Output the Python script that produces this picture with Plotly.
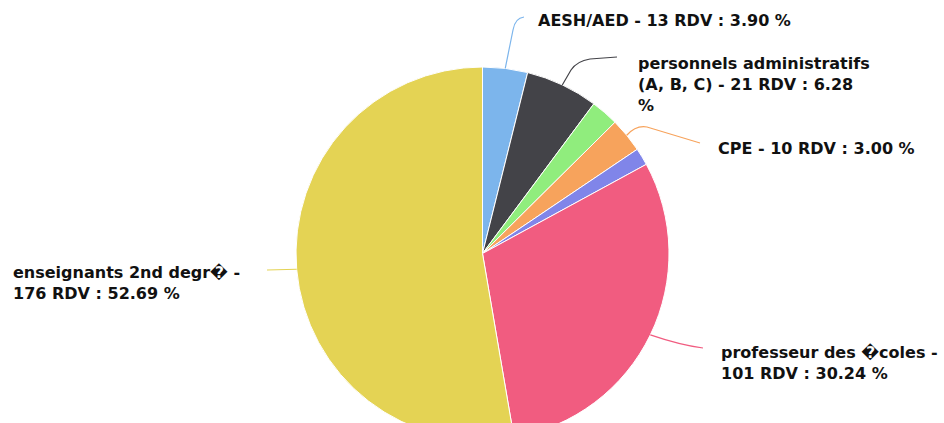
import math
import textwrap
import plotly.graph_objects as go

# Appointments (RDV) by staff category
categories = [
    "AESH/AED",
    "personnels administratifs (A, B, C)",
    "personnels de direction",
    "CPE",
    "autres",
    "professeur des \ufffdcoles",
    "enseignants 2nd degr\ufffd",
]
rdv_counts = [13, 21, 8, 10, 5, 101, 176]
pct_labels = ["3.90", "6.28", None, "3.00", None, "30.24", "52.69"]
colors = ["#7cb5ec", "#434348", "#90ed7d", "#f7a35c", "#8085e9", "#f15c80", "#e4d354"]

# label layout: wrap width (characters), text position (px), connector bend points (px)
W, H = 944, 445
CX, CY, R = 482.5, 253.5, 186.5
label_specs = {
    0: dict(wrap=40, pos=(536, 21), path=[("L", (513, 30)), ("Q", (515, 18), (524, 17))]),
    1: dict(wrap=25, pos=(636, 84), path=[("L", (571, 70)), ("Q", (577, 61), (590, 59)), ("L", (617, 57))]),
    3: dict(wrap=40, pos=(716, 148), path=[("Q", (636, 125), (647, 127)), ("L", (700, 143))]),
    5: dict(wrap=23, pos=(719, 363), path=[("Q", (680, 345), (703, 348))]),
    6: dict(wrap=23, pos=(11, 283), path=[("L", (267, 270))]),
}


def px(x, y):
    return x / W, 1 - y / H


fig = go.Figure(
    go.Pie(
        labels=categories,
        values=rdv_counts,
        sort=False,
        direction="clockwise",
        rotation=0,
        marker=dict(colors=colors, line=dict(color="#ffffff", width=1)),
        textinfo="none",
        hoverinfo="label+value+percent",
        domain=dict(x=[(CX - R) / W, (CX + R) / W], y=[1 - (CY + R) / H, 1 - (CY - R) / H]),
        showlegend=False,
    )
)

total = sum(rdv_counts)
cum = 0
annotations = []
shapes = []
for i, (name, n, pct) in enumerate(zip(categories, rdv_counts, pct_labels)):
    start = cum
    cum += n
    if i not in label_specs:
        continue
    spec = label_specs[i]
    mid = 2 * math.pi * (start + n / 2) / total
    tip = (CX + R * math.sin(mid), CY - R * math.cos(mid))
    text = f"{name} - {n} RDV : {pct} %"
    lines = textwrap.wrap(text, spec["wrap"])
    ax, ay = px(*spec["pos"])
    annotations.append(
        dict(
            x=ax, y=ay, xref="paper", yref="paper", xanchor="left", yanchor="middle",
            text="<br>".join(lines), showarrow=False, align="left",
            font=dict(family="DejaVu Sans", size=16, color="#111111", weight="bold"),
        )
    )
    tx, ty = px(*tip)
    d = f"M {tx:.5f},{ty:.5f}"
    for seg in spec["path"]:
        cmd = seg[0]
        pts = " ".join("{:.5f},{:.5f}".format(*px(*p)) for p in seg[1:])
        d += f" {cmd} {pts}"
    shapes.append(dict(type="path", xref="paper", yref="paper", path=d,
                       line=dict(color=colors[i], width=1.2)))

fig.update_layout(
    width=W, height=H,
    margin=dict(l=0, r=0, t=0, b=0),
    paper_bgcolor="#ffffff",
    annotations=annotations,
    shapes=shapes,
)

fig.write_html("out.html")
